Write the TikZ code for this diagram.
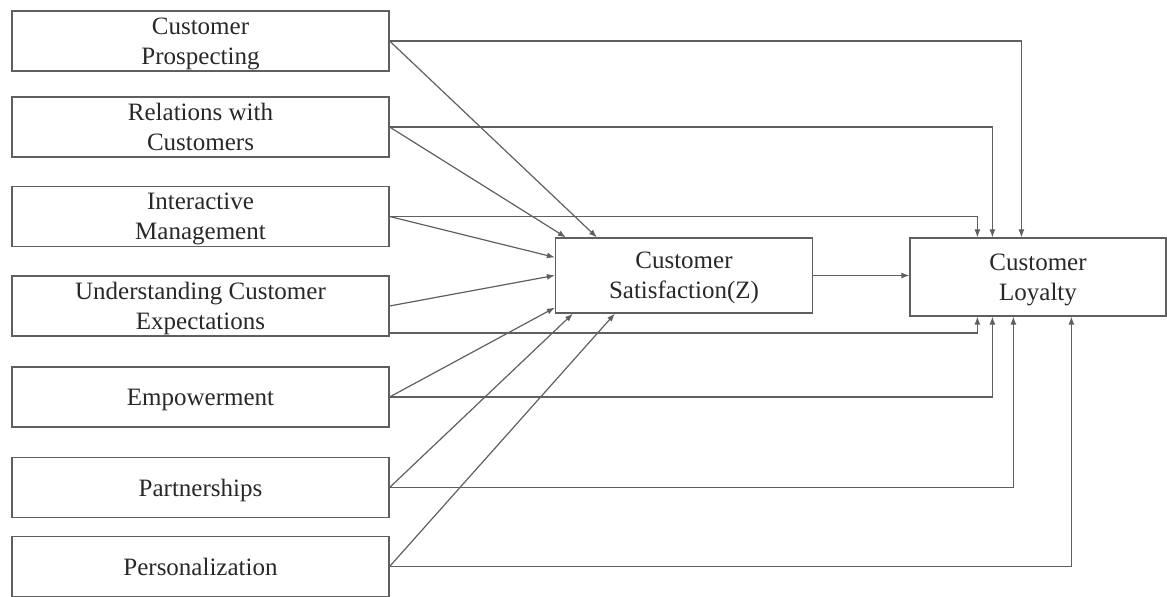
\documentclass[tikz,border=0pt]{standalone}
\usepackage{fontspec}
\setmainfont{Liberation Serif}
\newfontfamily\timesface{Liberation Serif}
\usepackage{tikz}
\usetikzlibrary{arrows.meta, positioning, calc}
\definecolor{boxline}{RGB}{95,95,95}
\definecolor{txtgray}{RGB}{40,40,40}

\begin{document}
\begin{tikzpicture}[
  x=0.5pt, y=-0.5pt,
  factor/.style={rectangle, draw=boxline, semithick, minimum width=188.5pt, minimum height=30pt, inner sep=0pt, text depth=0pt, align=center, font=\timesface\fontsize{12.5}{15}\selectfont, text=txtgray},
  outcome/.style={factor, minimum width=128.5pt, minimum height=37.5pt},
  conn/.style={draw=boxline, semithick, -{Latex[length=4pt, width=3pt]}}
]
\useasboundingbox (0,0) rectangle (1167,597);

% Antecedent boxes
\node[factor] (pros) at (200.5, 41) {Customer\\Prospecting};
\node[factor] (rel) at (200.5, 127) {Relations with\\Customers};
\node[factor] (inter) at (200.5, 216.5) {Interactive\\Management};
\node[factor] (under) at (200.5, 306) {Understanding Customer\\Expectations};
\node[factor] (emp) at (200.5, 397) {Empowerment};
\node[factor] (part) at (200.5, 487.5) {Partnerships};
\node[factor] (pers) at (200.5, 566.5) {Personalization};

% Mediator and outcome
\node[outcome] (sat) at (684, 275.5) {Customer\\Satisfaction(Z)};
\node[outcome, minimum width=128pt, minimum height=39pt] (loy) at (1038, 277) {Customer\\Loyalty};

% Paths to satisfaction
\draw[conn] (pros.east) -- ($(sat.north west)+(42,0)$);
\draw[conn] (rel.east) -- ($(sat.north west)+(11,0)$);
\draw[conn] (inter.east) -- ($(sat.north west)+(0,20)$);
\draw[conn] (under.east) -- ($(sat.north west)+(0,38)$);
\draw[conn] (emp.east) -- ($(sat.south west)+(0,-6)$);
\draw[conn] (part.east) -- ($(sat.south west)+(18,0)$);
\draw[conn] (pers.east) -- ($(sat.south west)+(60,0)$);

% Direct paths to loyalty
\draw[conn] (pros.east) -| ($(loy.north west)+(112,0)$);
\draw[conn] (rel.east) -| ($(loy.north west)+(83,0)$);
\draw[conn] (inter.east) -| ($(loy.north west)+(68,0)$);
\draw[conn] ($(under.east)+(0,27)$) -| ($(loy.south west)+(68,0)$);
\draw[conn] (emp.east) -| ($(loy.south west)+(83,0)$);
\draw[conn] (part.east) -| ($(loy.south west)+(104,0)$);
\draw[conn] (pers.east) -| ($(loy.south west)+(162,0)$);

% Satisfaction to loyalty
\draw[conn] (sat.east) -- (sat.east -| loy.west);

\end{tikzpicture}
\end{document}
